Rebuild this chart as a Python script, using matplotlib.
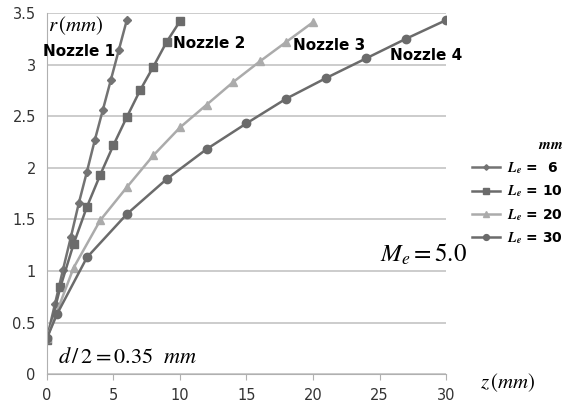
import matplotlib
matplotlib.use("Agg")
import matplotlib.pyplot as plt

plt.rcParams['mathtext.fontset'] = 'stix'
plt.rcParams['font.family'] = ['DejaVu Sans']

z1 = [0, 0.6, 1.2, 1.8, 2.4, 3.0, 3.6, 4.2, 4.8, 5.4, 6.0]
r1 = [0.35, 0.68, 1.01, 1.33, 1.66, 1.96, 2.27, 2.56, 2.85, 3.14, 3.43]
z2 = [0, 1, 2, 3, 4, 5, 6, 7, 8, 9, 10]
r2 = [0.33, 0.84, 1.26, 1.62, 1.93, 2.22, 2.49, 2.75, 2.98, 3.22, 3.42]
z3 = [0, 2, 4, 6, 8, 10, 12, 14, 16, 18, 20]
r3 = [0.35, 1.03, 1.49, 1.81, 2.12, 2.39, 2.61, 2.83, 3.03, 3.22, 3.41]
z4 = [0, 0.75, 3, 6, 9, 12, 15, 18, 21, 24, 27, 30]
r4 = [0.35, 0.58, 1.13, 1.55, 1.89, 2.18, 2.43, 2.67, 2.87, 3.06, 3.25, 3.43]
labels = ["6", "10", "20", "30"]

fig = plt.figure(figsize=(5.8, 4.04), dpi=100)
ax = fig.add_axes([0.081, 0.074, 0.688, 0.894])

dark = "#6b6b6b"
light = "#ababab"
Le = r"$\mathbfit{L}_{\mathbfit{e}}$"
ax.plot(z1, r1, color="#737373", marker="D", ms=4, lw=1.8, label=Le + " =  " + labels[0])
ax.plot(z2, r2, color=dark, marker="s", ms=6, lw=1.8, label=Le + " = " + labels[1])
ax.plot(z3, r3, color=light, marker="^", ms=6, lw=1.8, label=Le + " = " + labels[2])
ax.plot(z4, r4, color=dark, marker="o", ms=6, lw=1.8, label=Le + " = " + labels[3])

ax.set_xlim(0, 30)
ax.set_ylim(0, 3.5)
ax.set_xticks([0, 5, 10, 15, 20, 25, 30])
ax.set_yticks([0, 0.5, 1, 1.5, 2, 2.5, 3, 3.5])
ax.set_yticklabels(["0", "0.5", "1", "1.5", "2", "2.5", "3", "3.5"])
ax.grid(axis="y", color="#c4c4c4", lw=1.2)
ax.set_axisbelow(True)
for s in ["top", "right"]:
    ax.spines[s].set_visible(False)
ax.spines["left"].set_color("#b0b0b0")
ax.spines["bottom"].set_color("#b0b0b0")
ax.tick_params(axis="y", length=0, labelsize=10.5, colors="#333333", pad=8)
ax.tick_params(axis="x", length=4, direction="out", color="#b0b0b0", labelsize=10.5, labelcolor="#333333", pad=6)

ax.text(0.05, 3.38, r"$r\,(mm)$", fontsize=15, va="center", ha="left")
ax.text(-0.3, 3.13, "Nozzle 1", fontsize=11, fontweight="bold", va="center", ha="left")
ax.text(9.5, 3.20, "Nozzle 2", fontsize=11, fontweight="bold", va="center", ha="left")
ax.text(18.5, 3.18, "Nozzle 3", fontsize=11, fontweight="bold", va="center", ha="left")
ax.text(25.8, 3.09, "Nozzle 4", fontsize=11, fontweight="bold", va="center", ha="left")
ax.text(28.3, 1.16, r"$M_e = 5.0$", fontsize=18, va="center", ha="center")
ax.text(0.8, 0.17, r"$d\,/\,2 = 0.35\ \ mm$", fontsize=16, va="center", ha="left")
fig.text(0.828, 0.052, r"$z\,(mm)$", fontsize=15, va="center", ha="left")

leg = ax.legend(loc="upper left", bbox_to_anchor=(1.035, 0.69), frameon=False,
                title=r"$\mathbfit{mm}$", fontsize=10, handlelength=2.0,
                handletextpad=0.5, labelspacing=0.55, markerscale=0.7)
leg.get_title().set_fontsize(11)
leg._legend_box.align = "right"
for t in leg.get_texts():
    t.set_fontweight("bold")

fig.savefig("out.png", dpi=100)
